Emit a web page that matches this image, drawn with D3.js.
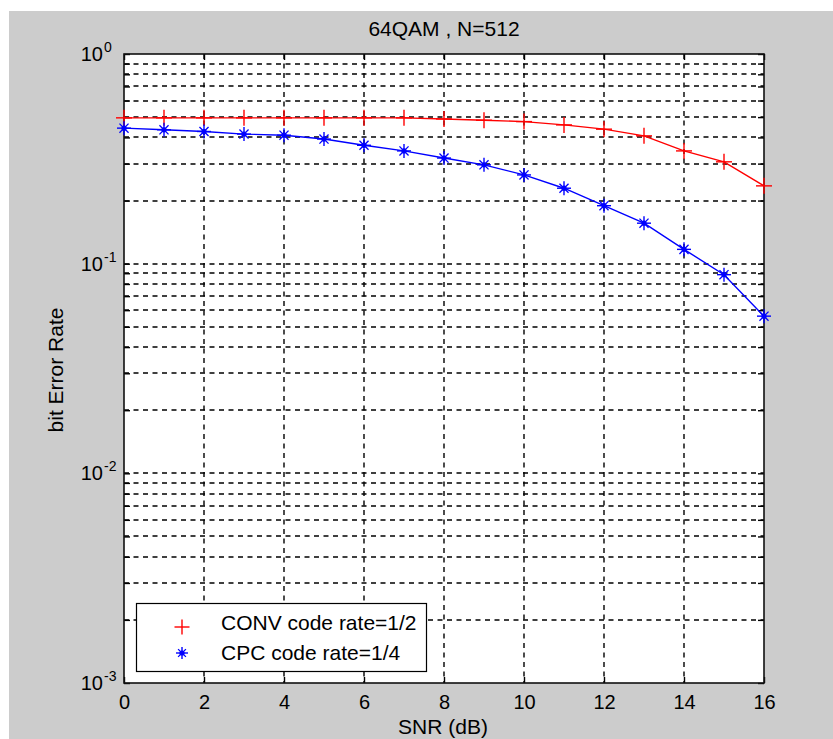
<!DOCTYPE html>
<html><head><meta charset="utf-8">
<script src="https://cdn.jsdelivr.net/npm/d3@7"></script>
<style>
body{margin:0;background:#fff}
text{font-family:"Liberation Sans",Arial,Helvetica,sans-serif;fill:#000}
</style>
</head><body>
<svg id="c" width="833" height="739"></svg>
<script>
// ---- data ----
const snr = [0,1,2,3,4,5,6,7,8,9,10,11,12,13,14,15,16];
const convBER = [0.496,0.496,0.496,0.496,0.496,0.496,0.496,0.496,0.490,0.483,0.476,0.459,0.438,0.407,0.345,0.306,0.235];
const cpcBER  = [0.443,0.435,0.427,0.415,0.410,0.393,0.367,0.345,0.319,0.296,0.265,0.229,0.189,0.156,0.117,0.0886,0.0562];
const xTicks = [0,2,4,6,8,10,12,14,16];
const yMajor = [1e-3,1e-2,1e-1,1];
const yExp = ["-3","-2","-1","0"];
const seriesNames = ["CONV code rate=1/2","CPC code rate=1/4"];
const seriesColors = ["#ff0000","#0000ff"];
const titleText = "64QAM , N=512";
const xLabelText = "SNR (dB)";
const yLabelText = "bit Error Rate";

// ---- layout ----
const svg = d3.select("#c");
const L = 124, R = 764, T = 54, B = 683;
const x = d3.scaleLinear().domain([0,16]).range([L,R]);
const y = d3.scaleLog().domain([1e-3,1]).range([B,T]);

const yAll = [];
for (let e=-3;e<0;e++) for (let k=1;k<10;k++) yAll.push(k*Math.pow(10,e));
yAll.push(1);

svg.append("rect").attr("x",9).attr("y",11).attr("width",824).attr("height",728).attr("fill","#cccccc");
svg.append("rect").attr("x",L).attr("y",T).attr("width",R-L).attr("height",B-T).attr("fill","#ffffff");

// grid
const grid = svg.append("g").attr("stroke","#000").attr("stroke-width",1.4).attr("stroke-dasharray","5,4.5");
grid.selectAll("line.v").data(xTicks.filter(d=>d>0&&d<16)).enter().append("line")
  .attr("x1",d=>Math.round(x(d))).attr("x2",d=>Math.round(x(d))).attr("y1",T).attr("y2",B);
grid.selectAll("line.h").data(yAll.filter(d=>d>1e-3&&d<1)).enter().append("line")
  .attr("y1",d=>Math.round(y(d))).attr("y2",d=>Math.round(y(d))).attr("x1",L).attr("x2",R);

// axes (ticks inward)
const tk = 6;
const axB = svg.append("g").attr("transform",`translate(0,${B})`)
  .call(d3.axisBottom(x).tickValues(xTicks).tickSize(-tk).tickPadding(12).tickFormat(d3.format("d")));
const axT = svg.append("g").attr("transform",`translate(0,${T})`)
  .call(d3.axisTop(x).tickValues(xTicks).tickSize(-tk).tickFormat(""));
const axL = svg.append("g").attr("transform",`translate(${L},0)`)
  .call(d3.axisLeft(y).tickValues(yAll).tickSize(-tk).tickFormat(""));
const axR = svg.append("g").attr("transform",`translate(${R},0)`)
  .call(d3.axisRight(y).tickValues(yAll).tickSize(-tk).tickFormat(""));
[axB,axT,axL,axR].forEach(a=>{
  a.select(".domain").remove();
  a.selectAll(".tick line").attr("stroke","#000").attr("stroke-width",1.4);
});
axB.selectAll(".tick text").attr("font-size",20).attr("font-family",'"Liberation Sans",Arial,sans-serif').attr("fill","#000");

// y tick labels 10^e
const yl = svg.append("g");
yMajor.forEach((v,i)=>{
  const py = y(v);
  yl.append("text").attr("x",103).attr("y",py+7).attr("text-anchor","end").attr("font-size",20).text("10");
  yl.append("text").attr("x",104).attr("y",py-2).attr("text-anchor","start").attr("font-size",14).text(yExp[i]);
});

// border
svg.append("rect").attr("x",L).attr("y",T).attr("width",R-L).attr("height",B-T)
  .attr("fill","none").attr("stroke","#111").attr("stroke-width",1.6);

// labels
svg.append("text").attr("x",444).attr("y",36).attr("text-anchor","middle").attr("font-size",21).text(titleText);
svg.append("text").attr("x",443).attr("y",734).attr("text-anchor","middle").attr("font-size",21).text(xLabelText);
svg.append("text").attr("transform","translate(63,370) rotate(-90)").attr("text-anchor","middle").attr("font-size",21).text(yLabelText);

// markers
function plus(g,cx,cy,s,color){
  g.append("line").attr("x1",cx-s).attr("x2",cx+s).attr("y1",cy).attr("y2",cy).attr("stroke",color).attr("stroke-width",1.4);
  g.append("line").attr("x1",cx).attr("x2",cx).attr("y1",cy-s).attr("y2",cy+s).attr("stroke",color).attr("stroke-width",1.4);
}
function star(g,cx,cy,s,color){
  plus(g,cx,cy,s,color);
  const d = s*0.65;
  g.append("line").attr("x1",cx-d).attr("x2",cx+d).attr("y1",cy-d).attr("y2",cy+d).attr("stroke",color).attr("stroke-width",1.3);
  g.append("line").attr("x1",cx-d).attr("x2",cx+d).attr("y1",cy+d).attr("y2",cy-d).attr("stroke",color).attr("stroke-width",1.3);
  g.append("circle").attr("cx",cx).attr("cy",cy).attr("r",2.6).attr("fill",color);
}

const line = d3.line().x((d,i)=>x(snr[i])).y(d=>y(d));
const series = [convBER, cpcBER];
series.forEach((s,si)=>{
  const g = svg.append("g");
  g.append("path").attr("d",line(s)).attr("fill","none").attr("stroke",seriesColors[si]).attr("stroke-width",1.4);
  s.forEach((v,i)=>{
    if (si===0) plus(g,x(snr[i]),y(v),8,seriesColors[si]);
    else star(g,x(snr[i]),y(v),7,seriesColors[si]);
  });
});

// legend
const lg = svg.append("g");
lg.append("rect").attr("x",136.5).attr("y",603.5).attr("width",290).attr("height",68)
  .attr("fill","#fff").attr("stroke","#000").attr("stroke-width",1.2);
plus(lg,182,627,7.5,seriesColors[0]);
star(lg,182,653,6,seriesColors[1]);
lg.append("text").attr("x",221).attr("y",630).attr("font-size",21).text(seriesNames[0]);
lg.append("text").attr("x",221).attr("y",660).attr("font-size",21).text(seriesNames[1]);
</script>
</body></html>
